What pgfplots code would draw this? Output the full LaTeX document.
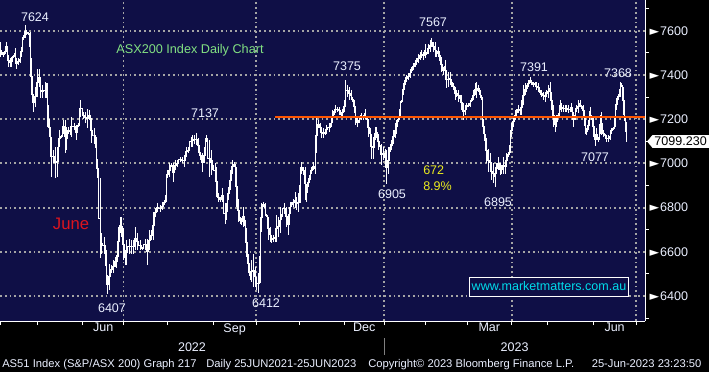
\documentclass[border=0pt]{standalone}
\usepackage{pgfplots}
\pgfplotsset{compat=1.18}
\usepackage{pgfplotstable}
\usepackage{fontspec}
\setmainfont{Liberation Sans}
\newfontfamily\dejavu{DejaVu Sans}
\usetikzlibrary{shapes.symbols}
\definecolor{navy}{RGB}{15,15,70}
\definecolor{gridgray}{RGB}{165,165,165}
\definecolor{lbl}{RGB}{235,240,255}
\definecolor{lgreen}{RGB}{130,225,130}
\definecolor{lyellow}{RGB}{235,235,30}
\definecolor{jred}{RGB}{220,20,30}
\definecolor{lcyan}{RGB}{0,220,235}
\definecolor{orng}{RGB}{255,85,0}
\newcommand{\lf}{\fontsize{9.4pt}{11pt}\selectfont}

\pgfplotstableread{
pos hi lo
0 7550 7482
1.7 7512 7490
3.3 7505 7482
5 7512 7497
6.7 7550 7505
8.3 7490 7437
10 7475 7437
11.7 7482 7437
13.3 7490 7475
15 7520 7475
16.7 7475 7429
18.3 7475 7444
20 7490 7452
21.7 7527 7482
23.3 7580 7558
25 7624 7565
26.7 7603 7580
28.3 7595 7580
30 7595 7460
31.7 7475 7309
33.3 7316 7233
35 7347 7256
37.3 7429 7301
39.3 7429 7347
40.7 7362 7294
42.7 7354 7294
45 7369 7294
46.7 7362 7294
47.7 7362 7165
49.3 7203 7120
51.7 7120 6939
53.3 7060 7000
55 7075 6932
57.3 7075 6939
59.3 7150 7075
61.7 7128 7113
63.3 7196 7135
65 7196 7045
66.7 7165 7060
68.3 7165 7135
70 7158 7128
71.7 7211 7120
74 7181 7150
76 7173 7105
78.3 7181 7165
80.7 7286 7211
83.3 7233 7203
85.7 7233 7181
87.3 7248 7158
89.3 7241 7196
91.7 7203 7090
94 7158 7090
96 7120 7022
97.7 7022 6932
100 6932 6570
101.7 6683 6592
104 6668 6592
106 6608 6472
107.3 6494 6407
109.3 6547 6427
111.7 6540 6502
113.3 6562 6502
115 6577 6532
116.7 6585 6525
118.3 6713 6577
120 6758 6683
121.7 6758 6668
123.3 6706 6562
125 6608 6540
126.7 6653 6540
129 6660 6592
131.7 6653 6592
133.3 6653 6592
135.7 6713 6608
137.7 6683 6608
140 6653 6608
142.3 6623 6608
145 6660 6608
147.3 6660 6540
149.3 6698 6608
151.7 6698 6653
153.7 6781 6653
155.7 6796 6758
157.7 6819 6781
160 6811 6781
162.3 6826 6788
164.3 6834 6811
166 6887 6826
167.7 6969 6932
169.3 7000 6939
171 7000 6985
173.3 7000 6917
175 7015 6969
177.7 7015 6985
180 7030 7007
182.3 7030 7000
184.3 7037 6985
186 7075 7030
188.3 7075 7045
191 7120 7075
192.7 7128 7075
194.3 7128 7090
196.7 7137 7083
198.3 7113 7045
200.7 7052 7015
202.3 7045 6962
204.3 7075 7000
206.7 7128 7098
209 7105 6939
211 7060 6947
212.7 7015 6969
215 7000 6939
216.7 6985 6849
218.3 6864 6826
220.7 6849 6826
222.7 6887 6826
225 6819 6728
226.7 6819 6743
228.3 6894 6834
230.7 6969 6879
232.7 7015 6954
234 7007 6985
236 6985 6804
238.3 6841 6736
240 6758 6728
241.7 6751 6721
243.3 6804 6713
245 6743 6698
246.7 6706 6577
248.3 6592 6502
250 6510 6472
251.7 6562 6464
253.3 6592 6442
255 6532 6442
256.7 6487 6427
258.3 6502 6412
260 6698 6457
261.7 6819 6691
263.3 6826 6804
265 6819 6781
266.7 6773 6758
268.3 6758 6653
270 6713 6645
271.7 6675 6638
273.3 6675 6645
275 6683 6645
276.7 6766 6645
278.3 6758 6668
280 6804 6683
281.7 6773 6743
284 6819 6773
286 6804 6713
288.3 6773 6675
290 6826 6773
291.7 6826 6804
293.3 6841 6804
295 6871 6796
296.7 6849 6788
298.3 6864 6781
300 6985 6819
301.7 7007 6954
303.3 6985 6947
305 6985 6834
306.7 6909 6826
308.3 6932 6894
310 6969 6924
311.7 6985 6954
313.3 7007 6969
315 7000 6954
316.7 7211 7045
318.3 7196 7158
320 7181 7143
321.7 7165 7113
323.3 7158 7113
325 7150 7128
326.7 7173 7135
329 7181 7143
331 7196 7165
332.3 7241 7181
334.3 7248 7218
335.7 7264 7226
337.7 7256 7233
339 7256 7218
341 7233 7211
342.3 7248 7211
344.3 7286 7233
345.7 7375 7286
347.3 7354 7301
349 7347 7286
351 7331 7286
352.3 7301 7279
354.3 7286 7226
355.7 7233 7173
357.7 7203 7165
359 7211 7181
360.7 7218 7203
361.7 7226 7196
363.3 7218 7196
365 7248 7203
366.7 7211 7196
368.3 7203 7120
370 7158 7113
371.7 7135 7022
373.3 7120 7022
375 7165 7105
376.7 7165 7113
378.3 7135 7060
380 7083 7067
381.7 7090 6992
383.3 7075 7015
385 7067 6985
386.7 7060 6905
388.3 7075 6954
390 7090 7052
391.7 7105 7060
393.3 7150 7090
395 7181 7113
396.7 7196 7135
398.3 7211 7188
400 7279 7211
401.7 7286 7271
403.3 7362 7309
405 7392 7354
406.7 7399 7369
408.3 7407 7377
410 7429 7384
411.7 7437 7407
413.3 7452 7422
415 7467 7437
416.7 7475 7444
418.3 7497 7452
420 7505 7467
421.7 7512 7475
423.3 7505 7467
425 7542 7475
426.7 7505 7490
428.3 7542 7497
430 7558 7505
431.7 7567 7527
433.3 7550 7505
435 7550 7482
436.7 7512 7482
438.3 7527 7482
440 7490 7444
441.7 7482 7414
443.3 7437 7399
445 7467 7407
446.7 7422 7339
448.3 7414 7347
450 7414 7354
451.7 7384 7347
453.3 7362 7331
455 7347 7286
456.7 7331 7301
458.3 7331 7279
460 7309 7279
461.7 7309 7241
463.3 7271 7196
465 7264 7218
466.7 7271 7241
468.3 7271 7256
470 7286 7256
471.7 7294 7279
473.3 7331 7286
475 7362 7309
476.7 7369 7294
478.3 7354 7324
480 7331 7294
481.7 7309 7286
483.3 7203 7135
485 7135 7075
486.7 7113 7000
488.3 7067 6962
490 7045 6962
491.7 7007 6924
493.3 7000 6909
495 6985 6895
496.7 7000 6954
498.3 7030 6969
500 7000 6947
501.7 6992 6954
503.3 7030 6954
505 7015 6954
506.7 7045 6985
508.3 7052 7030
510 7120 7045
511.7 7181 7120
513.3 7211 7165
515 7241 7196
516.7 7248 7211
518.3 7264 7226
520 7256 7218
521.7 7286 7218
523.3 7354 7264
525 7362 7309
526.7 7354 7324
528.3 7377 7347
530 7391 7362
531.7 7377 7354
533.3 7369 7347
535 7369 7354
536.7 7369 7331
538.3 7362 7324
540 7331 7309
541.7 7331 7301
543.3 7324 7286
545 7324 7279
546.7 7331 7301
548.3 7354 7294
550 7369 7309
551.7 7324 7241
553.3 7264 7165
555 7211 7143
556.7 7218 7165
558.3 7226 7211
560 7286 7241
561.7 7271 7233
563.3 7264 7233
565 7264 7233
566.7 7264 7233
568.3 7264 7226
570 7256 7233
571.7 7271 7233
573.3 7233 7165
575 7241 7196
576.7 7264 7233
578.3 7286 7226
580 7286 7256
581.7 7264 7248
583.3 7264 7211
585 7211 7135
586.7 7158 7128
588.3 7196 7150
590 7256 7211
591.7 7218 7196
593.3 7211 7120
595 7135 7077
596.7 7158 7105
598.3 7120 7098
600 7218 7135
601.7 7233 7128
603.3 7150 7120
605 7135 7113
606.7 7128 7098
608.3 7128 7098
610 7135 7105
611.7 7158 7135
613.3 7165 7150
615 7256 7165
616.7 7294 7241
618.3 7316 7286
620 7368 7301
621.7 7362 7347
623.3 7347 7218
625 7203 7181
626.7 7188 7099
}\ohlc

\begin{document}
\begin{tikzpicture}[x=0.75pt,y=0.75pt]
\fill[black] (0,0) rectangle (709,372);
\begin{axis}[
  at={(0pt,38.25pt)}, anchor=south west,
  scale only axis, width=483.75pt, height=240.75pt,
  xmin=0, xmax=645, ymin=6287, ymax=7739,
  clip=false,
  axis background/.style={fill=navy},
  axis x line*=bottom, axis y line*=right,
  axis line style={white, line width=0.75pt},
  tick align=outside,
  tick style={white, line width=0.75pt},
  major tick length=3pt, minor tick length=3pt,
  xtick={123.5,256,384.3,511.7,636},
  minor xtick={0,37.3,82.7,167.3,213.3,299.3,344.3,425.7,467,547.3,593.3},
  xticklabels={,,,,},
  extra x ticks={103.3,234.6,364.3,489.3,614.6},
  extra x tick labels={Jun,Sep,Dec,Mar,Jun},
  extra x tick style={grid=none, major tick length=0pt},
  xticklabel style={font=\lf, text=lbl, inner sep=0pt, yshift=-1.5pt},
  ytick={6400,6600,...,7600},
  minor ytick={6300,6500,...,7700},
  major y tick style={draw=none},
  /pgf/number format/1000 sep={},
  /pgf/number format/assume math mode=true,
  yticklabel={{\dejavu\textcolor{white}{►}}\hspace{0.6pt}\pgfmathprintnumber{\tick}},
  yticklabel style={font=\lf, text=lbl, anchor=west, inner sep=0pt, xshift=0.3pt},
  xmajorgrids, ymajorgrids,
  grid style={gridgray, line width=1.4pt, dash pattern=on 1.4pt off 2.2pt},
]
\addplot[white, line width=0.75pt, const plot mark mid, mark=none,
  error bars/.cd, y dir=both, y explicit, error mark=none,
  error bar style={white, line width=0.75pt}]
  table[x=pos, y expr={(\thisrow{hi}+\thisrow{lo})/2}, y error expr={(\thisrow{hi}-\thisrow{lo})/2}] {\ohlc};
\addplot[orng, line width=1.6pt, mark=none] coordinates {(275,7211) (645,7211)};

\node[font=\lf, text=lbl] at (axis cs:35,7662) {7624};
\node[font=\lf, text=lbl] at (axis cs:205,7228) {7137};
\node[font=\lf, text=lbl] at (axis cs:347,7440) {7375};
\node[font=\lf, text=lbl] at (axis cs:433,7639) {7567};
\node[font=\lf, text=lbl] at (axis cs:534,7436) {7391};
\node[font=\lf, text=lbl] at (axis cs:618,7409) {7368};
\node[font=\lf, text=lbl] at (axis cs:595,7029) {7077};
\node[font=\lf, text=lbl] at (axis cs:392,6861) {6905};
\node[font=\lf, text=lbl] at (axis cs:498,6825) {6895};
\node[font=\lf, text=lbl] at (axis cs:112,6346) {6407};
\node[font=\lf, text=lbl] at (axis cs:266,6368) {6412};
\node[font=\lf, text=lyellow, anchor=west, inner sep=0pt] at (axis cs:423,6970) {672};
\node[font=\lf, text=lyellow, anchor=west, inner sep=0pt] at (axis cs:423,6898) {8.9\%};
\node[font=\fontsize{12.5pt}{14pt}\selectfont, text=jred] at (axis cs:71,6726) {June};
\node[font=\fontsize{9.5pt}{11pt}\selectfont, text=lgreen] at (axis cs:190,7513) {ASX200 Index Daily Chart};
\node[font=\lf, text=lcyan, draw=white, line width=0.75pt, fill=navy, inner xsep=1.5pt, inner ysep=0pt, minimum height=14.25pt] at (axis cs:549,6443) {www.marketmatters.com.au};
\node[signal, signal to=west, signal pointer angle=100, fill=white, text=black, font=\lf, inner xsep=1.5pt, inner ysep=1.5pt, anchor=west, xshift=1.3pt] at (axis cs:645,7099.23) {7099.230};
\end{axis}
\draw[gray, line width=0.75pt] (384.3,34) -- (384.3,17);
\node[font=\lf, text=lbl] at (192,25) {2022};
\node[font=\lf, text=lbl] at (514.6,25) {2023};
\begin{scope}[every node/.style={font=\fontsize{8.4pt}{10pt}\selectfont, text=lbl, anchor=base west, inner sep=0pt}]
\node at (2,5) {AS51 Index (S\&P/ASX 200) Graph 217};
\node at (206,5) {Daily 25JUN2021-25JUN2023};
\node at (368,5) {Copyright© 2023 Bloomberg Finance L.P.};
\node at (591.5,5) {25-Jun-2023 23:23:50};
\end{scope}
\pgfresetboundingbox
\path (0,0) rectangle (709,372);
\end{tikzpicture}
\end{document}
